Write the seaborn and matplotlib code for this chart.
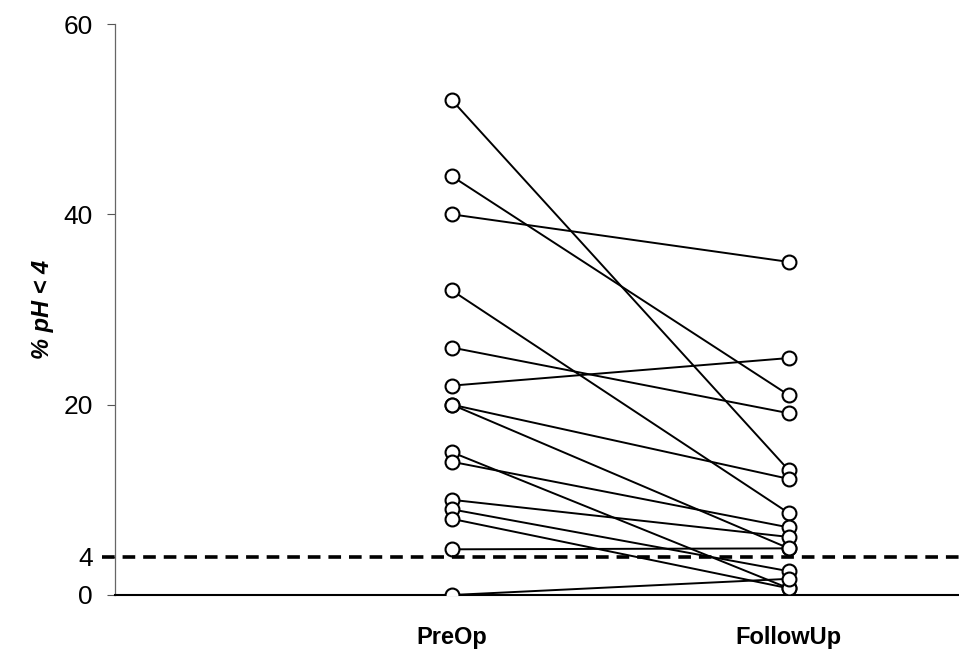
import matplotlib
matplotlib.use("Agg")
import matplotlib.pyplot as plt
import seaborn as sns
import pandas as pd

# Percentage of time with pH < 4, per patient, before surgery and at follow-up
timepoints = ["PreOp", "FollowUp"]
preop = [52, 44, 40, 32, 26, 22, 20, 20, 15, 14, 10, 9, 8, 4.8, 0]
followup = [13.1, 21, 35, 8.6, 19.1, 24.9, 12.2, 4.9, 0.7, 7.1, 6.1, 2.5, 0.7, 4.9, 1.7]
y_ticks = [0, 4, 20, 40, 60]
threshold = 4

patients = list(range(1, len(preop) + 1))
df = pd.DataFrame({
    "patient": patients * 2,
    "time": [timepoints[0]] * len(preop) + [timepoints[1]] * len(followup),
    "value": preop + followup,
})
df["pos"] = df["time"].map({t: i for i, t in enumerate(timepoints)})

sns.set_theme(style="white")
plt.rcParams["font.family"] = ["Liberation Sans", "DejaVu Sans"]
plt.rcParams["text.color"] = "black"
plt.rcParams["axes.labelcolor"] = "black"
plt.rcParams["xtick.color"] = "black"
plt.rcParams["ytick.color"] = "black"

fig = plt.figure(figsize=(9.59, 6.52), dpi=100)
ax = fig.add_axes([115 / 959, 57 / 652, 844 / 959, 571 / 652])

# paired lines, one per patient
sns.lineplot(data=df, x="pos", y="value", units="patient", estimator=None,
             color="black", linewidth=1.4, ax=ax, legend=False, zorder=2)
# open circle markers on top
sns.scatterplot(data=df, x="pos", y="value", marker="o", s=100,
                facecolor="white", edgecolor="black", linewidth=1.5,
                ax=ax, legend=False, zorder=3)

# normal-range threshold
ax.axhline(threshold, xmin=-0.015, xmax=1, color="black", linewidth=2.6,
           linestyle=(0, (3.5, 2.2)), clip_on=False, zorder=4)

ax.set_xlim(-1, 1.505)
ax.set_ylim(0, 60)
ax.set_yticks(y_ticks)
ax.set_yticklabels([str(t) for t in y_ticks], fontsize=19)
ax.set_xticks(range(len(timepoints)))
ax.set_xticklabels(timepoints, fontsize=17, fontweight="bold")
ax.tick_params(axis="x", length=0, pad=22, labelcolor="black")
ax.tick_params(axis="y", left=True, length=6, width=0.8, color="#555555",
               pad=10, labelcolor="black")

ax.set_xlabel("")
ax.set_ylabel("% pH < 4", fontsize=17, fontweight="bold", style="italic",
              labelpad=7, color="black")

for side in ["top", "right"]:
    ax.spines[side].set_visible(False)
ax.spines["left"].set_color("#666666")
ax.spines["left"].set_linewidth(0.9)
ax.spines["bottom"].set_color("black")
ax.spines["bottom"].set_linewidth(1.5)

fig.savefig("out.png", dpi=100)
